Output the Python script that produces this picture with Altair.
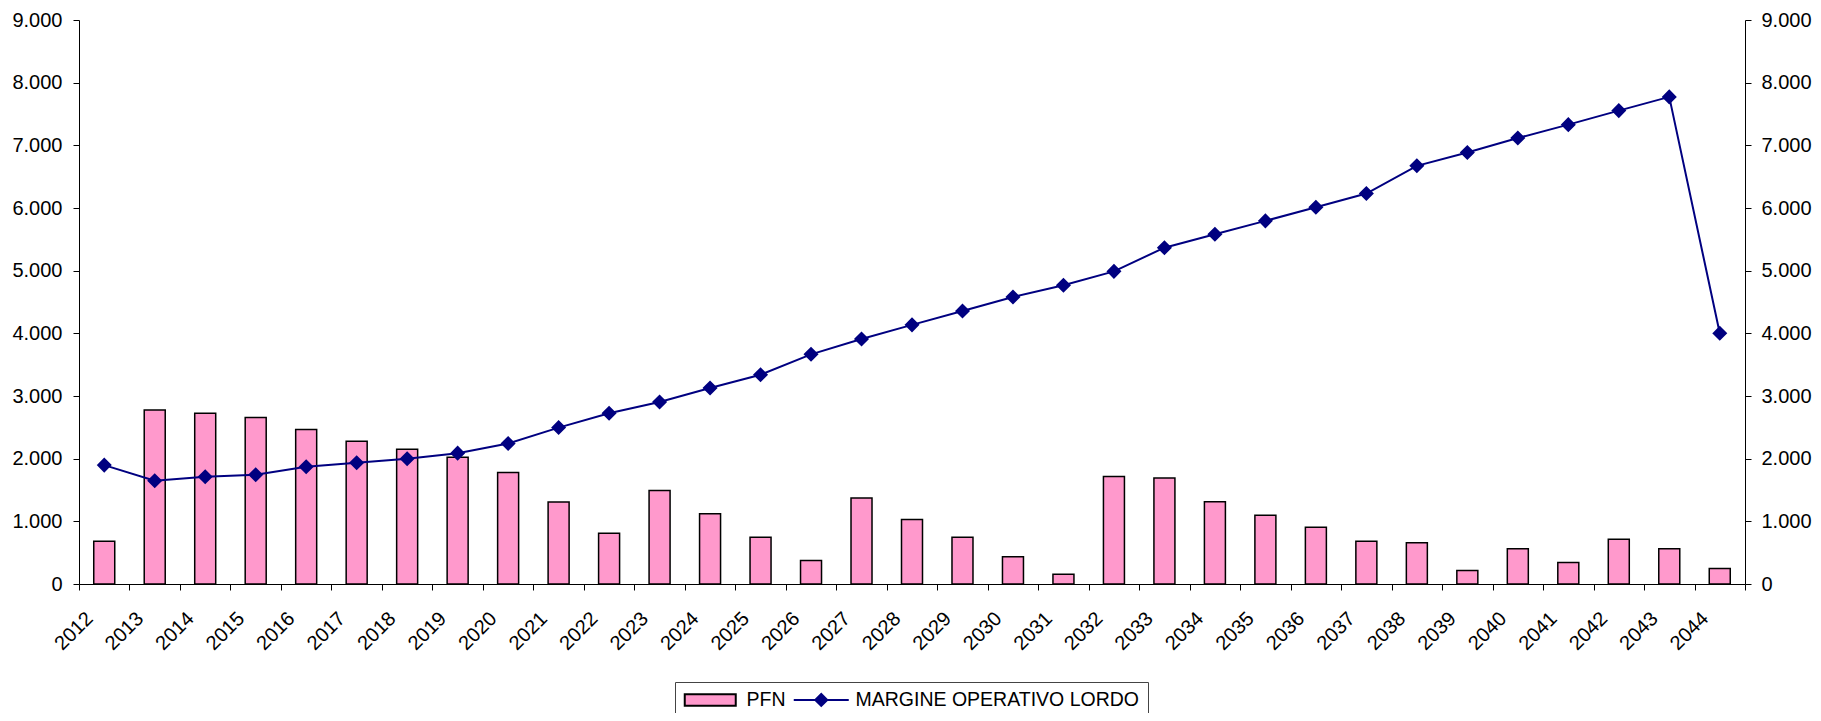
import altair as alt
import pandas as pd

years = [str(y) for y in range(2012, 2045)]
pfn = [684, 2777, 2724, 2655, 2464, 2279, 2152, 2024, 1781, 1309,
       811, 1494, 1123, 747, 376, 1373, 1028, 747, 435, 154,
       1717, 1690, 1314, 1097, 906, 684, 657, 217, 562, 344,
       715, 562, 249]
mol = [1897, 1648, 1712, 1744, 1871, 1934, 1998, 2088, 2242, 2496,
       2724, 2904, 3127, 3339, 3665, 3910, 4135, 4355, 4580, 4766,
       4989, 5367, 5580, 5795, 6012, 6231, 6673, 6887, 7116, 7330,
       7554, 7773, 4000]
series = ["PFN", "MARGINE OPERATIVO LORDO"]
colors = ["#FF99CC", "#000080"]
strokes = ["black", "#000080"]
legend_shapes = [
    "M-1,-0.72H5.375V0.72H-1Z",
    "M-1,0H5.875M2.4375,-0.75L3.1875,0L2.4375,0.75L1.6875,0Z",
]
y_ticks = list(range(0, 9001, 1000))

df_bar = pd.DataFrame({"anno": years, "valore": pfn, "serie": series[0]})
df_line = pd.DataFrame({"anno": years, "valore": mol, "serie": series[1]})
df_leg = pd.DataFrame({"serie": series})

FONT = "Liberation Sans"
label_expr = "replace(format(datum.value, ','), ',', '.')"

x_enc = alt.X(
    "anno:N",
    sort=years,
    scale=alt.Scale(paddingInner=0, paddingOuter=0),
    axis=alt.Axis(
        title=None, labelAngle=-45, labelFontSize=20, labelFont=FONT,
        labelColor="black", tickBand="extent", tickSize=6, tickColor="black",
        domainColor="black", labelPadding=18, labelOffset=-22, grid=False,
        labelAlign="right", labelBaseline="top",
    ),
)

color_scale = alt.Scale(domain=series, range=colors)
stroke_scale = alt.Scale(domain=series, range=strokes)

legend = alt.Legend(
    title=None, orient="none", legendX=596, legendY=662, direction="horizontal",
    labelFont=FONT, labelFontSize=19.5, labelColor="black", labelLimit=0,
    strokeColor="#444444", padding=8, symbolSize=256, labelOffset=44,
    columnPadding=3, symbolStrokeWidth=2, symbolOpacity=1,
)


def y_enc(orient, pad):
    return alt.Y(
        "valore:Q",
        scale=alt.Scale(domain=[0, 9000], nice=False),
        axis=alt.Axis(
            title=None, values=y_ticks, labelExpr=label_expr, labelFontSize=20,
            labelFont=FONT, labelColor="black", tickColor="black",
            domainColor="black", grid=False, tickSize=6, orient=orient,
            labelPadding=pad,
        ),
    )


leg = alt.Chart(df_leg).mark_point(filled=True, opacity=1, strokeWidth=2).encode(
    color=alt.Color("serie:N", scale=color_scale, legend=legend),
    shape=alt.Shape("serie:N", scale=alt.Scale(domain=series, range=legend_shapes), legend=legend),
    stroke=alt.Stroke("serie:N", scale=stroke_scale, legend=legend),
).transform_filter("false")

bars = alt.Chart(df_bar).mark_bar(
    size=21, stroke="black", strokeWidth=1.5, opacity=1
).encode(
    x=x_enc,
    y=y_enc("left", 11),
    color=alt.Color("serie:N", scale=color_scale, legend=legend),
)

line = alt.Chart(df_line).mark_line(
    strokeWidth=2,
    point=alt.OverlayMarkDef(shape="diamond", size=150, filled=True, fill="#000080", opacity=1),
).encode(
    x=x_enc,
    y=y_enc("right", 10),
    stroke=alt.Stroke("serie:N", scale=stroke_scale, legend=legend),
)

chart = alt.layer(leg, bars, line).resolve_scale(y="independent").properties(
    width=1666, height=564,
    autosize=alt.AutoSizeParams(type="none"),
    padding={"left": 71, "top": 12, "right": 68, "bottom": 129},
).configure(background="white").configure_view(stroke=None)

chart.save("out.html", embed_options={"renderer": "svg", "actions": False})
